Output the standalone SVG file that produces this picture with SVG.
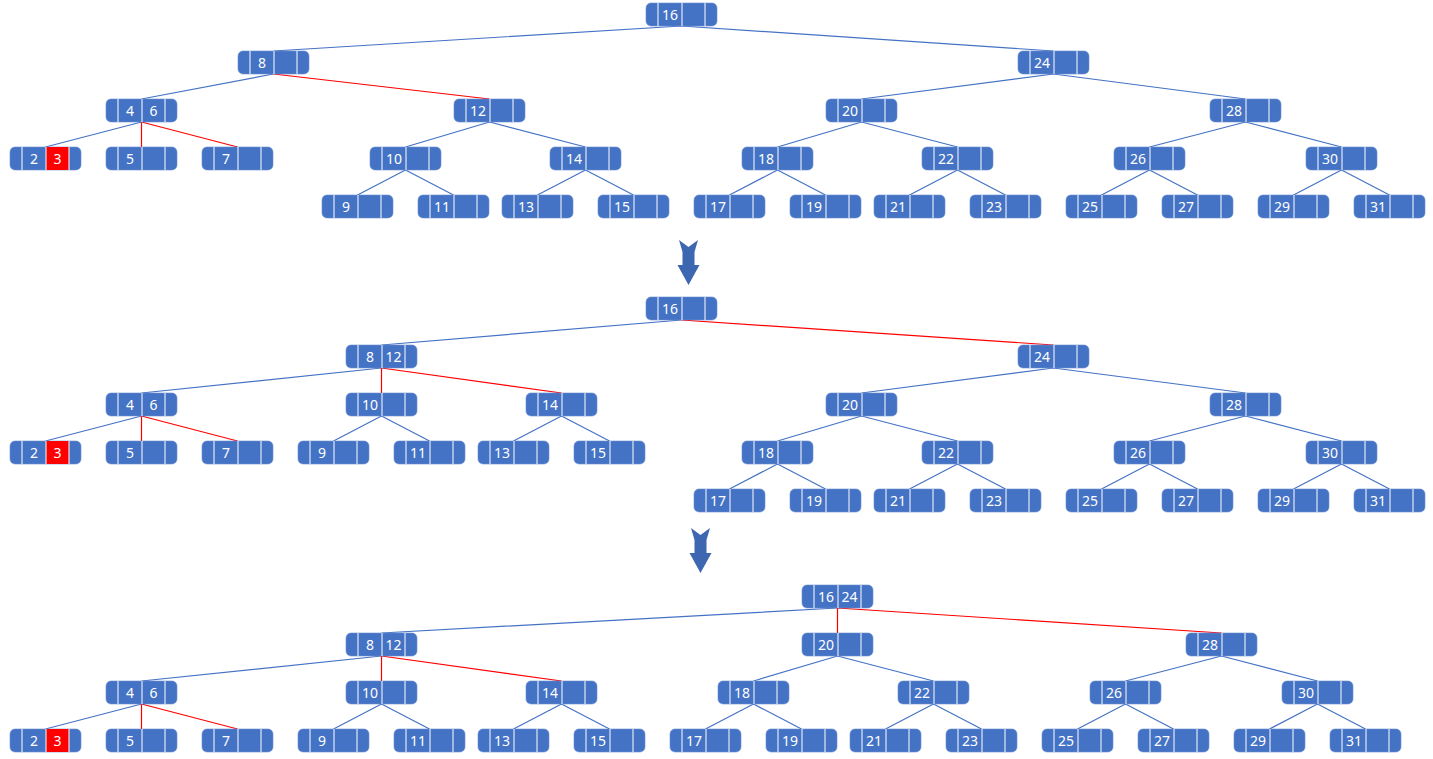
<svg xmlns="http://www.w3.org/2000/svg" xmlns:xlink="http://www.w3.org/1999/xlink" width="1433" height="759" viewBox="0 0 1433 759">
<style>
text{font-family:"Noto Sans","Liberation Sans",sans-serif;font-size:14px;fill:#fff;text-anchor:middle}
.b{stroke:#4472C4;stroke-width:1.2;fill:none}
.r{stroke:#FF0000;stroke-width:1.2;fill:none}
.arr{fill:#3E67B1}
</style>
<defs>
<g id="nd"><rect x="0" y="0" width="71" height="23" rx="5" fill="#4472C4" stroke="#6b8fd3" stroke-width="0.6"/><path d="M12,0V23M36,0V23M59,0V23" stroke="#fff" stroke-width="1"/></g>
<g id="ndr"><rect x="0" y="0" width="71" height="23" rx="5" fill="#4472C4" stroke="#6b8fd3" stroke-width="0.6"/><rect x="36" y="0" width="23" height="23" fill="#FF0000"/><path d="M12,0V23M36,0V23M59,0V23" stroke="#fff" stroke-width="1"/></g>
</defs>
<rect width="1433" height="759" fill="#fff"/>
<g id="connectors">
<!-- tree 1 -->
<path class="b" d="M681.5,26L273.5,51M681.5,26L1053.5,51M273.5,74L141.5,99M1053.5,74L861.5,99M1053.5,74L1245.5,99M141.5,122L45.5,147M489.5,122L405.5,147M489.5,122L585.5,147M861.5,122L777.5,147M861.5,122L957.5,147M1245.5,122L1149.5,147M1245.5,122L1341.5,147M405.5,170L357.5,195M405.5,170L453.5,195M585.5,170L537.5,195M585.5,170L633.5,195M777.5,170L729.5,195M777.5,170L825.5,195M957.5,170L909.5,195M957.5,170L1005.5,195M1149.5,170L1101.5,195M1149.5,170L1197.5,195M1341.5,170L1293.5,195M1341.5,170L1389.5,195"/>
<path class="r" d="M273.5,74L489.5,99M141.5,122L141.5,147M141.5,122L237.5,147"/>
<!-- tree 2 -->
<path class="b" d="M681.5,320L381.5,345M381.5,368L141.5,393M1053.5,368L861.5,393M1053.5,368L1245.5,393M141.5,416L45.5,441M381.5,416L333.5,441M381.5,416L429.5,441M561.5,416L513.5,441M561.5,416L609.5,441M861.5,416L777.5,441M861.5,416L957.5,441M1245.5,416L1149.5,441M1245.5,416L1341.5,441M777.5,464L729.5,489M777.5,464L825.5,489M957.5,464L909.5,489M957.5,464L1005.5,489M1149.5,464L1101.5,489M1149.5,464L1197.5,489M1341.5,464L1293.5,489M1341.5,464L1389.5,489"/>
<path class="r" d="M681.5,320L1053.5,345M381.5,368L381.5,393M381.5,368L561.5,393M141.5,416L141.5,441M141.5,416L237.5,441"/>
<!-- tree 3 -->
<path class="b" d="M837.5,608L381.5,633M381.5,656L141.5,681M837.5,656L753.5,681M837.5,656L933.5,681M1221.5,656L1125.5,681M1221.5,656L1317.5,681M141.5,704L45.5,729M381.5,704L333.5,729M381.5,704L429.5,729M561.5,704L513.5,729M561.5,704L609.5,729M753.5,704L705.5,729M753.5,704L801.5,729M933.5,704L885.5,729M933.5,704L981.5,729M1125.5,704L1077.5,729M1125.5,704L1173.5,729M1317.5,704L1269.5,729M1317.5,704L1365.5,729"/>
<path class="r" d="M837.5,608L837.5,633M837.5,608L1221.5,633M381.5,656L381.5,681M381.5,656L561.5,681M141.5,704L141.5,729M141.5,704L237.5,729"/>
</g>
<g id="arrows">
<path class="arr" d="M679,240L688.5,247L698,240L694.5,252L694.5,265L699.5,265L688.5,285L677.5,265L682.5,265L682.5,252Z"/>
<path class="arr" d="M691,528L700.5,535L710,528L706.5,540L706.5,553L711.5,553L700.5,573L689.5,553L694.5,553L694.5,540Z"/>
</g>
<!-- tree 1 nodes -->
<g id="t1-16" transform="translate(646,3)"><use xlink:href="#nd"/><text x="24" y="16.5">16</text></g>
<g id="t1-8" transform="translate(238,51)"><use xlink:href="#nd"/><text x="24" y="16.5">8</text></g>
<g id="t1-24" transform="translate(1018,51)"><use xlink:href="#nd"/><text x="24" y="16.5">24</text></g>
<g id="t1-4-6" transform="translate(106,99)"><use xlink:href="#nd"/><text x="24" y="16.5">4</text><text x="47.5" y="16.5">6</text></g>
<g id="t1-12" transform="translate(454,99)"><use xlink:href="#nd"/><text x="24" y="16.5">12</text></g>
<g id="t1-20" transform="translate(826,99)"><use xlink:href="#nd"/><text x="24" y="16.5">20</text></g>
<g id="t1-28" transform="translate(1210,99)"><use xlink:href="#nd"/><text x="24" y="16.5">28</text></g>
<g id="t1-2-3" transform="translate(10,147)"><use xlink:href="#ndr"/><text x="24" y="16.5">2</text><text x="47.5" y="16.5">3</text></g>
<g id="t1-5" transform="translate(106,147)"><use xlink:href="#nd"/><text x="24" y="16.5">5</text></g>
<g id="t1-7" transform="translate(202,147)"><use xlink:href="#nd"/><text x="24" y="16.5">7</text></g>
<g id="t1-10" transform="translate(370,147)"><use xlink:href="#nd"/><text x="24" y="16.5">10</text></g>
<g id="t1-14" transform="translate(550,147)"><use xlink:href="#nd"/><text x="24" y="16.5">14</text></g>
<g id="t1-18" transform="translate(742,147)"><use xlink:href="#nd"/><text x="24" y="16.5">18</text></g>
<g id="t1-22" transform="translate(922,147)"><use xlink:href="#nd"/><text x="24" y="16.5">22</text></g>
<g id="t1-26" transform="translate(1114,147)"><use xlink:href="#nd"/><text x="24" y="16.5">26</text></g>
<g id="t1-30" transform="translate(1306,147)"><use xlink:href="#nd"/><text x="24" y="16.5">30</text></g>
<g id="t1-9" transform="translate(322,195)"><use xlink:href="#nd"/><text x="24" y="16.5">9</text></g>
<g id="t1-11" transform="translate(418,195)"><use xlink:href="#nd"/><text x="24" y="16.5">11</text></g>
<g id="t1-13" transform="translate(502,195)"><use xlink:href="#nd"/><text x="24" y="16.5">13</text></g>
<g id="t1-15" transform="translate(598,195)"><use xlink:href="#nd"/><text x="24" y="16.5">15</text></g>
<g id="t1-17" transform="translate(694,195)"><use xlink:href="#nd"/><text x="24" y="16.5">17</text></g>
<g id="t1-19" transform="translate(790,195)"><use xlink:href="#nd"/><text x="24" y="16.5">19</text></g>
<g id="t1-21" transform="translate(874,195)"><use xlink:href="#nd"/><text x="24" y="16.5">21</text></g>
<g id="t1-23" transform="translate(970,195)"><use xlink:href="#nd"/><text x="24" y="16.5">23</text></g>
<g id="t1-25" transform="translate(1066,195)"><use xlink:href="#nd"/><text x="24" y="16.5">25</text></g>
<g id="t1-27" transform="translate(1162,195)"><use xlink:href="#nd"/><text x="24" y="16.5">27</text></g>
<g id="t1-29" transform="translate(1258,195)"><use xlink:href="#nd"/><text x="24" y="16.5">29</text></g>
<g id="t1-31" transform="translate(1354,195)"><use xlink:href="#nd"/><text x="24" y="16.5">31</text></g>
<!-- tree 2 nodes -->
<g id="t2-16" transform="translate(646,297)"><use xlink:href="#nd"/><text x="24" y="16.5">16</text></g>
<g id="t2-8-12" transform="translate(346,345)"><use xlink:href="#nd"/><text x="24" y="16.5">8</text><text x="47.5" y="16.5">12</text></g>
<g id="t2-24" transform="translate(1018,345)"><use xlink:href="#nd"/><text x="24" y="16.5">24</text></g>
<g id="t2-4-6" transform="translate(106,393)"><use xlink:href="#nd"/><text x="24" y="16.5">4</text><text x="47.5" y="16.5">6</text></g>
<g id="t2-10" transform="translate(346,393)"><use xlink:href="#nd"/><text x="24" y="16.5">10</text></g>
<g id="t2-14" transform="translate(526,393)"><use xlink:href="#nd"/><text x="24" y="16.5">14</text></g>
<g id="t2-20" transform="translate(826,393)"><use xlink:href="#nd"/><text x="24" y="16.5">20</text></g>
<g id="t2-28" transform="translate(1210,393)"><use xlink:href="#nd"/><text x="24" y="16.5">28</text></g>
<g id="t2-2-3" transform="translate(10,441)"><use xlink:href="#ndr"/><text x="24" y="16.5">2</text><text x="47.5" y="16.5">3</text></g>
<g id="t2-5" transform="translate(106,441)"><use xlink:href="#nd"/><text x="24" y="16.5">5</text></g>
<g id="t2-7" transform="translate(202,441)"><use xlink:href="#nd"/><text x="24" y="16.5">7</text></g>
<g id="t2-9" transform="translate(298,441)"><use xlink:href="#nd"/><text x="24" y="16.5">9</text></g>
<g id="t2-11" transform="translate(394,441)"><use xlink:href="#nd"/><text x="24" y="16.5">11</text></g>
<g id="t2-13" transform="translate(478,441)"><use xlink:href="#nd"/><text x="24" y="16.5">13</text></g>
<g id="t2-15" transform="translate(574,441)"><use xlink:href="#nd"/><text x="24" y="16.5">15</text></g>
<g id="t2-18" transform="translate(742,441)"><use xlink:href="#nd"/><text x="24" y="16.5">18</text></g>
<g id="t2-22" transform="translate(922,441)"><use xlink:href="#nd"/><text x="24" y="16.5">22</text></g>
<g id="t2-26" transform="translate(1114,441)"><use xlink:href="#nd"/><text x="24" y="16.5">26</text></g>
<g id="t2-30" transform="translate(1306,441)"><use xlink:href="#nd"/><text x="24" y="16.5">30</text></g>
<g id="t2-17" transform="translate(694,489)"><use xlink:href="#nd"/><text x="24" y="16.5">17</text></g>
<g id="t2-19" transform="translate(790,489)"><use xlink:href="#nd"/><text x="24" y="16.5">19</text></g>
<g id="t2-21" transform="translate(874,489)"><use xlink:href="#nd"/><text x="24" y="16.5">21</text></g>
<g id="t2-23" transform="translate(970,489)"><use xlink:href="#nd"/><text x="24" y="16.5">23</text></g>
<g id="t2-25" transform="translate(1066,489)"><use xlink:href="#nd"/><text x="24" y="16.5">25</text></g>
<g id="t2-27" transform="translate(1162,489)"><use xlink:href="#nd"/><text x="24" y="16.5">27</text></g>
<g id="t2-29" transform="translate(1258,489)"><use xlink:href="#nd"/><text x="24" y="16.5">29</text></g>
<g id="t2-31" transform="translate(1354,489)"><use xlink:href="#nd"/><text x="24" y="16.5">31</text></g>
<!-- tree 3 nodes -->
<g id="t3-16-24" transform="translate(802,585)"><use xlink:href="#nd"/><text x="24" y="16.5">16</text><text x="47.5" y="16.5">24</text></g>
<g id="t3-8-12" transform="translate(346,633)"><use xlink:href="#nd"/><text x="24" y="16.5">8</text><text x="47.5" y="16.5">12</text></g>
<g id="t3-20" transform="translate(802,633)"><use xlink:href="#nd"/><text x="24" y="16.5">20</text></g>
<g id="t3-28" transform="translate(1186,633)"><use xlink:href="#nd"/><text x="24" y="16.5">28</text></g>
<g id="t3-4-6" transform="translate(106,681)"><use xlink:href="#nd"/><text x="24" y="16.5">4</text><text x="47.5" y="16.5">6</text></g>
<g id="t3-10" transform="translate(346,681)"><use xlink:href="#nd"/><text x="24" y="16.5">10</text></g>
<g id="t3-14" transform="translate(526,681)"><use xlink:href="#nd"/><text x="24" y="16.5">14</text></g>
<g id="t3-18" transform="translate(718,681)"><use xlink:href="#nd"/><text x="24" y="16.5">18</text></g>
<g id="t3-22" transform="translate(898,681)"><use xlink:href="#nd"/><text x="24" y="16.5">22</text></g>
<g id="t3-26" transform="translate(1090,681)"><use xlink:href="#nd"/><text x="24" y="16.5">26</text></g>
<g id="t3-30" transform="translate(1282,681)"><use xlink:href="#nd"/><text x="24" y="16.5">30</text></g>
<g id="t3-2-3" transform="translate(10,729)"><use xlink:href="#ndr"/><text x="24" y="16.5">2</text><text x="47.5" y="16.5">3</text></g>
<g id="t3-5" transform="translate(106,729)"><use xlink:href="#nd"/><text x="24" y="16.5">5</text></g>
<g id="t3-7" transform="translate(202,729)"><use xlink:href="#nd"/><text x="24" y="16.5">7</text></g>
<g id="t3-9" transform="translate(298,729)"><use xlink:href="#nd"/><text x="24" y="16.5">9</text></g>
<g id="t3-11" transform="translate(394,729)"><use xlink:href="#nd"/><text x="24" y="16.5">11</text></g>
<g id="t3-13" transform="translate(478,729)"><use xlink:href="#nd"/><text x="24" y="16.5">13</text></g>
<g id="t3-15" transform="translate(574,729)"><use xlink:href="#nd"/><text x="24" y="16.5">15</text></g>
<g id="t3-17" transform="translate(670,729)"><use xlink:href="#nd"/><text x="24" y="16.5">17</text></g>
<g id="t3-19" transform="translate(766,729)"><use xlink:href="#nd"/><text x="24" y="16.5">19</text></g>
<g id="t3-21" transform="translate(850,729)"><use xlink:href="#nd"/><text x="24" y="16.5">21</text></g>
<g id="t3-23" transform="translate(946,729)"><use xlink:href="#nd"/><text x="24" y="16.5">23</text></g>
<g id="t3-25" transform="translate(1042,729)"><use xlink:href="#nd"/><text x="24" y="16.5">25</text></g>
<g id="t3-27" transform="translate(1138,729)"><use xlink:href="#nd"/><text x="24" y="16.5">27</text></g>
<g id="t3-29" transform="translate(1234,729)"><use xlink:href="#nd"/><text x="24" y="16.5">29</text></g>
<g id="t3-31" transform="translate(1330,729)"><use xlink:href="#nd"/><text x="24" y="16.5">31</text></g>
</svg>
